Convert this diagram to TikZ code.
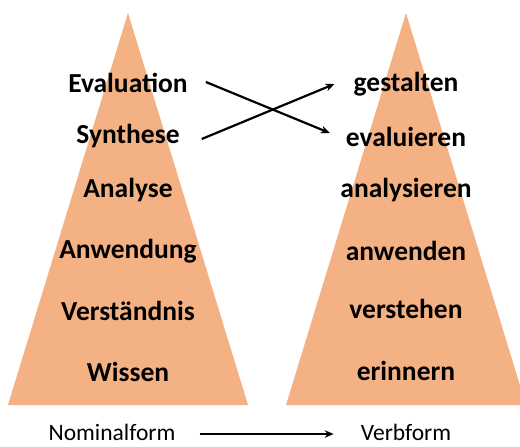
\documentclass[tikz,border=0pt]{standalone}
\usepackage{fontspec}
\setmainfont{Carlito}
\usetikzlibrary{positioning, arrows.meta}
\definecolor{pfirsich}{HTML}{F4B183}

\begin{document}
\begin{tikzpicture}[>={Stealth[length=9pt,width=7.5pt]}, x=1pt, y=-1pt,
		begriff/.style={font=\bfseries\fontsize{27.5}{30}\selectfont, inner sep=0pt, anchor=base},
		achse/.style={font=\fontsize{23.5}{26}\selectfont, inner sep=0pt, anchor=base}]
		
		% Parámetros geométricos de las pirámides
		\def\Xl{128}   % Vértice de la pirámide izquierda
		\def\Xr{406}   % Vértice de la pirámide derecha
		\def\Hb{120}   % Semiancho de la base
		\def\Ysup{13}  % Altura del vértice
		\def\Yinf{405} % Altura de la base
		
		\useasboundingbox (0,0) rectangle (520,447);
		\clip (0,0) rectangle (520,447);
		
		% --- 1. PIRÁMIDES ---
		\fill[pfirsich] (\Xl-\Hb,\Yinf) -- (\Xl+\Hb,\Yinf) -- (\Xl,\Ysup) -- cycle;
		\fill[pfirsich] (\Xr-\Hb,\Yinf) -- (\Xr+\Hb,\Yinf) -- (\Xr,\Ysup) -- cycle;
		
		% --- 2. NOMINALFORM (izquierda) ---
		\node[begriff] (evaluation) at (\Xl,92) {Evaluation};
		\node[begriff] (synthese) at (\Xl,143) {Synthese};
		\node[begriff] (analyse) at (\Xl,197) {Analyse};
		\node[begriff] (anwendung) at (\Xl,258) {Anwendung};
		\node[begriff] (verstaendnis) at (\Xl,320) {Verständnis};
		\node[begriff] (wissen) at (\Xl,381) {Wissen};
		
		% --- 3. VERBFORM (derecha) ---
		\node[begriff] (gestalten) at (\Xr,91) {gestalten};
		\node[begriff] (evaluieren) at (\Xr,146) {evaluieren};
		\node[begriff] (analysieren) at (\Xr,197) {analysieren};
		\node[begriff] (anwenden) at (\Xr,260) {anwenden};
		\node[begriff] (verstehen) at (\Xr,318) {verstehen};
		\node[begriff] (erinnern) at (\Xr,380) {erinnern};
		
		% --- 4. FLECHAS CRUZADAS ---
		\draw[->, line width=2.2pt] ([xshift=18pt, yshift=10pt]evaluation.base east) -- ([xshift=-16pt, yshift=13pt]evaluieren.base west);
		\draw[->, line width=2.2pt] ([xshift=22pt, yshift=4pt]synthese.base east) -- ([xshift=-19pt, yshift=7pt]gestalten.base west);
		
		% --- 5. EJE INFERIOR ---
		\node[achse] (nominal) at (112,440) {Nominalform};
		\node[achse] (verbal) at (406,440) {Verbform};
		\draw[->, line width=2pt] ([xshift=24pt, yshift=6pt]nominal.base east) -- ([xshift=-27pt, yshift=6pt]verbal.base west);
		
	\end{tikzpicture}
\end{document}
